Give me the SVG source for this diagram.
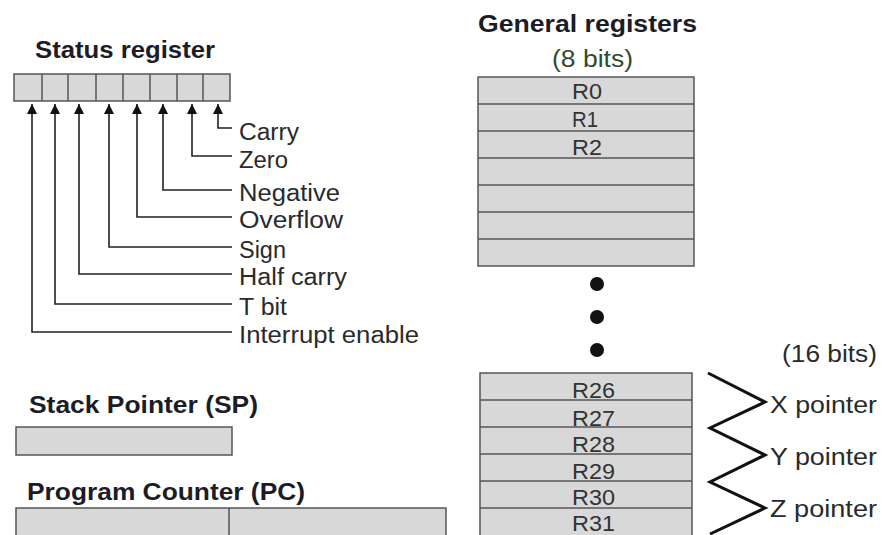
<svg xmlns="http://www.w3.org/2000/svg" width="882" height="535" viewBox="0 0 882 535">
  <style>
    .title { font-family: "Liberation Sans", Arial, sans-serif; font-weight: bold; font-size: 23px; fill: #1c1c26; }
    .lbl { font-family: "Liberation Sans", Arial, sans-serif; font-size: 23px; fill: #2a2a2a; }
    .reg { font-family: "Liberation Sans", Arial, sans-serif; font-size: 22px; fill: #333; }
    .box { fill: #d8d8d8; stroke: #555; stroke-width: 1.5; }
    .div { stroke: #555; stroke-width: 1.5; fill: none; }
    .wire { stroke: #222; stroke-width: 1.6; fill: none; }
  </style>
  <defs>
    <marker id="ah" markerUnits="userSpaceOnUse" markerWidth="12" markerHeight="12" refX="10" refY="5" orient="auto">
      <path d="M0,0 L10,5 L0,10 Z" fill="#111"/>
    </marker>
  </defs>
  <rect width="882" height="535" fill="#ffffff"/>

  <g id="status-register">
    <text class="title" x="35" y="58" textLength="180" lengthAdjust="spacingAndGlyphs">Status register</text>
    <rect class="box" x="14" y="74" width="216" height="27"/>
    <path class="div" d="M42,74V101 M68,74V101 M96,74V101 M123,74V101 M150,74V101 M177,74V101 M203,74V101"/>
  </g>

  <g id="flag-labels">
    <text class="lbl" x="239" y="140" textLength="60" lengthAdjust="spacingAndGlyphs">Carry</text>
    <text class="lbl" x="239" y="168" textLength="49" lengthAdjust="spacingAndGlyphs">Zero</text>
    <text class="lbl" x="239" y="201" textLength="101" lengthAdjust="spacingAndGlyphs">Negative</text>
    <text class="lbl" x="239" y="228" textLength="104" lengthAdjust="spacingAndGlyphs">Overflow</text>
    <text class="lbl" x="239" y="258" textLength="47" lengthAdjust="spacingAndGlyphs">Sign</text>
    <text class="lbl" x="239" y="285" textLength="108" lengthAdjust="spacingAndGlyphs">Half carry</text>
    <text class="lbl" x="239" y="315" textLength="48" lengthAdjust="spacingAndGlyphs">T bit</text>
    <text class="lbl" x="239" y="343" textLength="180" lengthAdjust="spacingAndGlyphs">Interrupt enable</text>
  </g>

  <g id="connectors">
    <path class="wire" d="M232,128 H218 V104" marker-end="url(#ah)"/>
    <path class="wire" d="M232,156 H192 V104" marker-end="url(#ah)"/>
    <path class="wire" d="M232,190 H163 V104" marker-end="url(#ah)"/>
    <path class="wire" d="M232,217 H137 V104" marker-end="url(#ah)"/>
    <path class="wire" d="M232,247 H109 V104" marker-end="url(#ah)"/>
    <path class="wire" d="M232,274 H79 V104" marker-end="url(#ah)"/>
    <path class="wire" d="M232,304 H55 V104" marker-end="url(#ah)"/>
    <path class="wire" d="M232,332 H32 V104" marker-end="url(#ah)"/>
  </g>

  <g id="general-registers">
    <text class="title" x="478" y="32" textLength="219" lengthAdjust="spacingAndGlyphs">General registers</text>
    <text class="lbl" x="552" y="67" textLength="81" lengthAdjust="spacingAndGlyphs" style="fill:#2f4a2f">(8 bits)</text>
    <rect class="box" x="478" y="77" width="216" height="189"/>
    <path class="div" d="M478,104H694 M478,131H694 M478,158H694 M478,185H694 M478,212H694 M478,239H694"/>
    <text class="reg" x="572" y="99" textLength="30" lengthAdjust="spacingAndGlyphs">R0</text>
    <text class="reg" x="572" y="127" textLength="26" lengthAdjust="spacingAndGlyphs">R1</text>
    <text class="reg" x="572" y="155" textLength="30" lengthAdjust="spacingAndGlyphs">R2</text>
  </g>

  <g id="ellipsis">
    <circle cx="597" cy="284" r="7" fill="#111"/>
    <circle cx="597" cy="317" r="7" fill="#111"/>
    <circle cx="597" cy="350" r="7" fill="#111"/>
  </g>

  <g id="upper-registers">
    <text class="lbl" x="782" y="362" textLength="95" lengthAdjust="spacingAndGlyphs">(16 bits)</text>
    <rect class="box" x="480" y="373" width="212" height="172"/>
    <path class="div" d="M480,400H692 M480,427H692 M480,454H692 M480,481H692 M480,508H692"/>
    <text class="reg" x="572" y="398" textLength="43" lengthAdjust="spacingAndGlyphs">R26</text>
    <text class="reg" x="572" y="426" textLength="43" lengthAdjust="spacingAndGlyphs">R27</text>
    <text class="reg" x="572" y="452" textLength="43" lengthAdjust="spacingAndGlyphs">R28</text>
    <text class="reg" x="572" y="479" textLength="43" lengthAdjust="spacingAndGlyphs">R29</text>
    <text class="reg" x="572" y="505" textLength="43" lengthAdjust="spacingAndGlyphs">R30</text>
    <text class="reg" x="572" y="531" textLength="43" lengthAdjust="spacingAndGlyphs">R31</text>
  </g>

  <g id="pointer-brace">
    <path d="M708,373 L765,402 L710,428 L765,455 L710,482 L765,508 L710,534" fill="none" stroke="#111" stroke-width="3" stroke-linejoin="miter"/>
    <text class="lbl" x="770" y="413" textLength="107" lengthAdjust="spacingAndGlyphs">X pointer</text>
    <text class="lbl" x="770" y="465" textLength="107" lengthAdjust="spacingAndGlyphs">Y pointer</text>
    <text class="lbl" x="770" y="517" textLength="107" lengthAdjust="spacingAndGlyphs">Z pointer</text>
  </g>

  <g id="stack-pointer">
    <text class="title" x="29" y="413" textLength="229" lengthAdjust="spacingAndGlyphs">Stack Pointer (SP)</text>
    <rect class="box" x="16" y="427" width="216" height="28"/>
  </g>

  <g id="program-counter">
    <text class="title" x="27" y="500" textLength="278" lengthAdjust="spacingAndGlyphs">Program Counter (PC)</text>
    <rect class="box" x="16" y="508" width="430" height="35"/>
    <path class="div" d="M229,508V535"/>
  </g>
</svg>
